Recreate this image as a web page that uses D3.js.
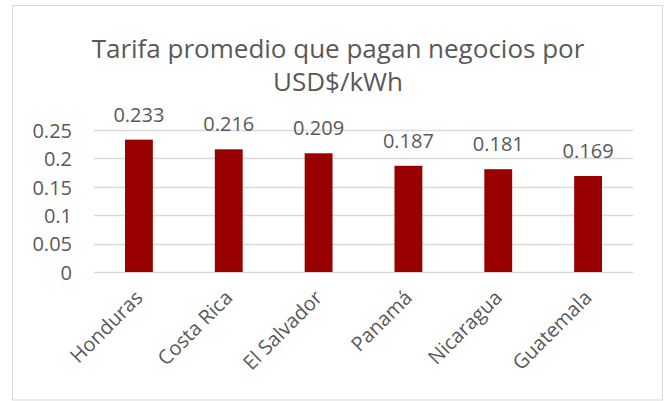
<!DOCTYPE html>
<html>
<head>
<meta charset="utf-8">
<script src="https://cdn.jsdelivr.net/npm/d3@7"></script>
<style>
  html, body { margin: 0; padding: 0; background: #fff; }
  svg text { font-family: "Open Sans", sans-serif; fill: #595959; }
</style>
</head>
<body>
<svg id="chart" width="669" height="401"></svg>
<script>
const paises = ["Honduras", "Costa Rica", "El Salvador", "Panamá", "Nicaragua", "Guatemala"];
const tarifas = [0.233, 0.216, 0.209, 0.187, 0.181, 0.169];
const yTicks = [0, 0.05, 0.1, 0.15, 0.2, 0.25];
const titulo = ["Tarifa promedio que pagan negocios por", "USD$/kWh"];

let svg = d3.select("#chart");
let width = +svg.attr("width");
let height = +svg.attr("height");
let margin = { top: 130, bottom: 129, left: 94, right: 36 };

// marco
svg.append("rect")
  .attr("x", 12.5).attr("y", 5.5)
  .attr("width", 650).attr("height", 394.5)
  .attr("fill", "#fff")
  .attr("stroke", "#d9d9d9")
  .attr("stroke-width", 1);

let x = d3.scaleBand()
  .domain(paises)
  .range([margin.left, width - margin.right])
  .paddingInner(0.69)
  .paddingOuter(0.345);

let y = d3.scaleLinear()
  .domain([0, 0.25])
  .range([height - margin.bottom, margin.top]);

// lineas de grilla
svg.append("g")
  .selectAll("line")
  .data(yTicks)
  .enter()
    .append("line")
    .attr("x1", margin.left)
    .attr("x2", width - margin.right)
    .attr("y1", d => Math.round(y(d)) + 0.5)
    .attr("y2", d => Math.round(y(d)) + 0.5)
    .attr("stroke", "#d9d9d9")
    .attr("stroke-width", 1.5);

// eje y
let yAxis = g => g
  .attr("transform", `translate(${margin.left - 22},0)`)
  .call(d3.axisLeft(y).tickValues(yTicks).tickSize(0).tickFormat(d => String(d)))
  .call(g => g.select(".domain").remove())
  .call(g => g.selectAll("text")
    .attr("x", 0)
    .attr("dy", "0.36em")
    .style("font-size", "20px")
    .style("font-family", "'Open Sans', sans-serif")
    .attr("fill", "#595959"));
svg.append("g").call(yAxis);

// barras
svg.append("g")
  .selectAll("rect")
  .data(paises)
  .enter()
    .append("rect")
    .attr("x", d => x(d))
    .attr("y", (d, i) => y(tarifas[i]))
    .attr("width", x.bandwidth())
    .attr("height", (d, i) => y(0) - y(tarifas[i]))
    .attr("fill", "#990000");

// etiquetas de valor
svg.append("g")
  .selectAll("text")
  .data(paises)
  .enter()
    .append("text")
    .attr("x", d => x(d) + x.bandwidth() / 2)
    .attr("y", (d, i) => y(tarifas[i]) - 18)
    .attr("text-anchor", "middle")
    .style("font-size", "20px")
    .text((d, i) => String(tarifas[i]));

// eje x
let xAxis = g => g
  .attr("transform", `translate(0,${height - margin.bottom})`)
  .call(d3.axisBottom(x).tickSize(0))
  .call(g => g.select(".domain").remove())
  .call(g => g.selectAll("text")
    .attr("text-anchor", "end")
    .attr("x", 0).attr("y", 0).attr("dy", 0)
    .attr("transform", "translate(5,27) rotate(-45)")
    .style("font-size", "20px")
    .style("font-family", "'Open Sans', sans-serif")
    .attr("fill", "#595959"));
svg.append("g").call(xAxis);

// titulo
svg.append("text")
  .attr("x", 338)
  .attr("y", 58)
  .attr("text-anchor", "middle")
  .style("font-size", "26px")
  .selectAll("tspan")
  .data(titulo)
  .enter()
    .append("tspan")
    .attr("x", 338)
    .attr("dy", (d, i) => i === 0 ? 0 : 33)
    .text(d => d);
</script>
</body>
</html>
